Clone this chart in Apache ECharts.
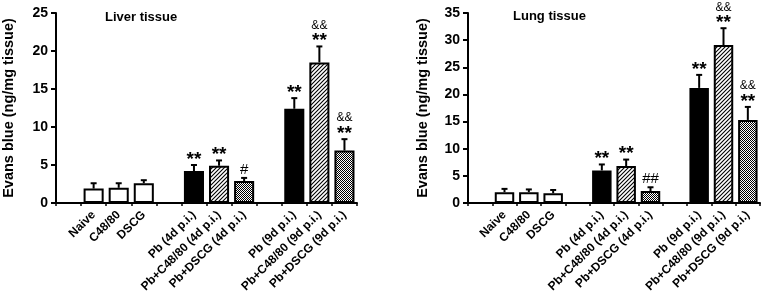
<!DOCTYPE html>
<html>
<head>
<meta charset="utf-8">
<script src="https://cdn.jsdelivr.net/npm/echarts@6/dist/echarts.min.js"></script>
<style>
  html, body { margin: 0; padding: 0; background: #fff; }
  #chart { width: 765px; height: 299px; }
</style>
</head>
<body>
<div id="chart"></div>
<script>
// 数据
var groups = ['Naive', 'C48/80', 'DSCG', 'Pb (4d p.i.)', 'Pb+C48/80 (4d p.i.)', 'Pb+DSCG (4d p.i.)',
              'Pb (9d p.i.)', 'Pb+C48/80 (9d p.i.)', 'Pb+DSCG (9d p.i.)'];
// 每组在坐标轴上的位置 (空位为组间间隔)
var slots = [1, 2, 3, 5, 6, 7, 9, 10, 11];
var slotCount = 12;
var fills = ['white', 'white', 'white', 'black', 'hatch', 'check', 'black', 'hatch', 'check'];

var liverMean = [1.9, 2.0, 2.6, 4.2, 4.9, 2.9, 12.4, 18.5, 6.9];
var liverSem  = [0.7, 0.6, 0.4, 0.8, 0.7, 0.4, 1.4, 2.1, 1.5];
var liverStar = ['', '', '', '**', '**', '#', '**', '**', '**'];
var liverAmp  = ['', '', '', '', '', '', '', '&&', '&&'];

var lungMean = [2.0, 2.0, 1.8, 6.0, 6.8, 2.2, 21.2, 29.1, 15.3];
var lungSem  = [0.6, 0.5, 0.6, 1.1, 1.2, 0.7, 2.4, 3.1, 2.4];
var lungStar = ['', '', '', '**', '**', '##', '**', '**', '**'];
var lungAmp  = ['', '', '', '', '', '', '', '&&', '&&'];

var liverTicks = [0, 5, 10, 15, 20, 25];
var lungTicks = [0, 5, 10, 15, 20, 25, 30, 35];

var FONT = 'Liberation Sans, Arial, sans-serif';

// 填充图案
function makeHatch() {
    var c = document.createElement('canvas');
    c.width = 4; c.height = 4;
    var g = c.getContext('2d');
    g.fillStyle = '#fff'; g.fillRect(0, 0, 4, 4);
    g.strokeStyle = '#000'; g.lineWidth = 1.1;
    g.beginPath();
    g.moveTo(0, 4); g.lineTo(4, 0);
    g.moveTo(-1, 1); g.lineTo(1, -1);
    g.moveTo(3, 5); g.lineTo(5, 3);
    g.stroke();
    return c;
}
function makeCheck() {
    var c = document.createElement('canvas');
    c.width = 2; c.height = 2;
    var g = c.getContext('2d');
    g.fillStyle = '#fff'; g.fillRect(0, 0, 2, 2);
    g.fillStyle = '#000';
    g.fillRect(0, 0, 1, 1); g.fillRect(1, 1, 1, 1);
    return c;
}
var patterns = {
    white: '#fff',
    black: '#000',
    hatch: { image: makeHatch(), repeat: 'repeat' },
    check: { image: makeCheck(), repeat: 'repeat' }
};

function slotLabels() {
    var arr = [];
    for (var i = 0; i < slotCount; i++) arr.push('');
    slots.forEach(function (s, k) { arr[s] = groups[k]; });
    return arr;
}

function barData(mean) {
    return mean.map(function (v, k) {
        return {
            value: [slots[k], v],
            itemStyle: { color: patterns[fills[k]] }
        };
    });
}

function errData(mean, sem) {
    return mean.map(function (v, k) { return [slots[k], v, sem[k]]; });
}

function errRender(star, amp) {
    return function (params, api) {
        var x = api.value(0), m = api.value(1), e = api.value(2);
        var p0 = api.coord([x, m]);
        var p1 = api.coord([x, m + e]);
        var cap = 3;
        var children = [
            { type: 'line', shape: { x1: p0[0], y1: p0[1], x2: p1[0], y2: p1[1] }, style: { stroke: '#000', lineWidth: 2 } },
            { type: 'line', shape: { x1: p1[0] - cap, y1: p1[1], x2: p1[0] + cap, y2: p1[1] }, style: { stroke: '#000', lineWidth: 2 } }
        ];
        var s = star[params.dataIndex];
        if (s) {
            var isHash = s.charAt(0) === '#';
            children.push({
                type: 'text',
                style: {
                    text: s, x: p1[0], y: isHash ? p1[1] - 1 : p1[1] + 4,
                    align: 'center', verticalAlign: 'bottom',
                    font: isHash ? '15px ' + FONT : 'bold 19px ' + FONT,
                    fill: '#000'
                }
            });
        }
        var a = amp[params.dataIndex];
        if (a) {
            children.push({
                type: 'text',
                style: {
                    text: a, x: p1[0], y: p1[1] - 15,
                    align: 'center', verticalAlign: 'bottom',
                    font: '12px ' + FONT, fill: '#000'
                }
            });
        }
        return { type: 'group', children: children };
    };
}

function xAxisOpt(idx) {
    return {
        type: 'category',
        gridIndex: idx,
        data: slotLabels(),
        boundaryGap: true,
        axisLine: { lineStyle: { color: '#000', width: 2 } },
        axisTick: {
            show: true, length: 3, interval: 0,
            lineStyle: { color: '#000', width: 1.5 }
        },
        axisLabel: {
            interval: 0, rotate: 45, margin: 10,
            padding: [12, 0, 0, 0],
            color: '#000', fontWeight: 'bold', fontSize: 12, fontFamily: FONT
        },
        splitLine: { show: false }
    };
}

function yAxisOpt(idx, ticks, gap) {
    return {
        type: 'value',
        gridIndex: idx,
        min: ticks[0],
        max: ticks[ticks.length - 1],
        interval: ticks[1] - ticks[0],
        name: 'Evans blue (ng/mg tissue)',
        nameLocation: 'middle',
        nameGap: gap,
        nameTextStyle: { color: '#000', fontWeight: 'bold', fontSize: 14.5, fontFamily: FONT },
        axisLine: { show: true, lineStyle: { color: '#000', width: 2 } },
        axisTick: { show: true, length: 5, lineStyle: { color: '#000', width: 2 } },
        axisLabel: { color: '#000', fontWeight: 'bold', fontSize: 14, fontFamily: FONT, margin: 8 },
        splitLine: { show: false }
    };
}

function barSeries(idx, mean) {
    return {
        type: 'bar',
        xAxisIndex: idx, yAxisIndex: idx,
        barWidth: '80%',
        itemStyle: { borderColor: '#000', borderWidth: 2 },
        data: barData(mean),
        z: 2,
        animation: false
    };
}

function errSeries(idx, mean, sem, star, amp) {
    return {
        type: 'custom',
        xAxisIndex: idx, yAxisIndex: idx,
        renderItem: errRender(star, amp),
        data: errData(mean, sem),
        encode: { x: 0, y: 1 },
        clip: false,
        z: 3,
        animation: false
    };
}

var chart = echarts.init(document.getElementById('chart'));
var option = {
    backgroundColor: '#fff',
    animation: false,
    title: [
        { text: 'Liver tissue', left: 105, top: 11, padding: 0,
          textStyle: { color: '#000', fontWeight: 'bold', fontSize: 13, fontFamily: FONT } },
        { text: 'Lung tissue', left: 513, top: 10, padding: 0,
          textStyle: { color: '#000', fontWeight: 'bold', fontSize: 13, fontFamily: FONT } }
    ],
    grid: [
        { left: 56, top: 13, width: 301, height: 190 },
        { left: 468, top: 13, width: 292, height: 190 }
    ],
    xAxis: [xAxisOpt(0), xAxisOpt(1)],
    yAxis: [yAxisOpt(0, liverTicks, 40), yAxisOpt(1, lungTicks, 38)],
    series: [
        barSeries(0, liverMean),
        errSeries(0, liverMean, liverSem, liverStar, liverAmp),
        barSeries(1, lungMean),
        errSeries(1, lungMean, lungSem, lungStar, lungAmp)
    ]
};
chart.setOption(option);

window.addEventListener('resize', function () {
    chart.resize();
});
</script>
</body>
</html>
